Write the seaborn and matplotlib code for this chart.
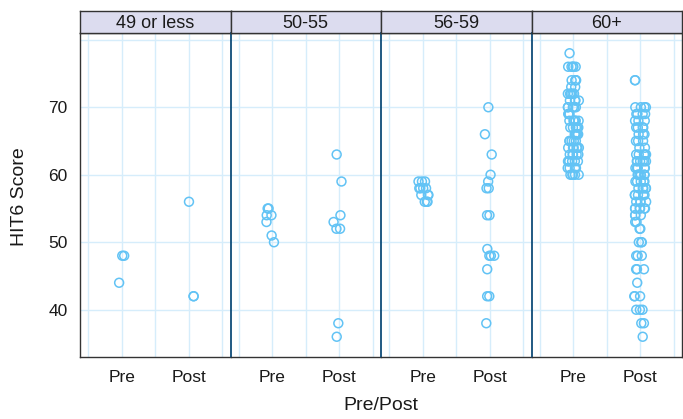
import numpy as np
import pandas as pd
import matplotlib
matplotlib.use("Agg")
import matplotlib.pyplot as plt
import seaborn as sns

# ---- data ----
panels = ["49 or less", "50-55", "56-59", "60+"]
groups = ["Pre", "Post"]

age49_pre = [48, 48, 44]
age49_post = [56, 42, 42]
age50_pre = [55, 55, 54, 54, 53, 51, 50]
age50_post = [63, 59, 54, 53, 52, 52, 38, 36]
age56_pre = [59, 59, 59, 58, 58, 58, 58, 57, 57, 57, 56, 56, 56]
age56_post = [70, 66, 63, 60, 59, 58, 58, 54, 54, 49, 48, 48, 48, 46, 42, 42, 38]
age60_pre = [78,
             76, 76, 76, 76, 76,
             74, 74, 74, 74,
             73, 73,
             72, 72, 72, 72, 72,
             71, 71, 71, 71,
             70, 70, 70, 70, 70,
             69, 69, 69, 69,
             68, 68, 68, 68, 68, 68,
             67, 67, 67, 67, 67,
             66, 66, 66, 66, 66,
             65, 65, 65, 65, 65,
             64, 64, 64, 64, 64, 64,
             63, 63, 63, 63, 63,
             62, 62, 62, 62, 62, 62,
             61, 61, 61, 61,
             60, 60, 60, 60, 60]
age60_post = [74, 74,
              70, 70, 70, 70,
              69, 69, 69, 69,
              68, 68, 68,
              67, 67, 67, 67,
              66, 66, 66,
              65, 65, 65,
              64, 64,
              63, 63, 63, 63, 63,
              62, 62, 62, 62, 62, 62,
              61, 61, 61, 61, 61,
              60, 60, 60, 60, 60, 60,
              59, 59, 59, 59, 59,
              58, 58, 58, 58, 58,
              57, 57, 57, 57, 57,
              56, 56, 56, 56,
              55, 55, 55, 55, 55, 55,
              54, 54, 54,
              53, 53,
              52, 52,
              50, 50, 50,
              48, 48, 48,
              46, 46, 46,
              44,
              42, 42, 42,
              40, 40, 40,
              38, 38,
              36]

series = {
    "49 or less": (age49_pre, age49_post),
    "50-55": (age50_pre, age50_post),
    "56-59": (age56_pre, age56_post),
    "60+": (age60_pre, age60_post),
}
yticks = [40, 50, 60, 70, 80]
ytick_labels = ["40", "50", "60", "70", ""]

rows = []
for p in panels:
    pre, post = series[p]
    for v in pre:
        rows.append((p, "Pre", v))
    for v in post:
        rows.append((p, "Post", v))
df = pd.DataFrame(rows, columns=["age", "prepost", "score"])

# ---- style ----
sns.set_style("white")
plt.rcParams["font.family"] = ["Liberation Sans", "DejaVu Sans"]

pt_color = "#62c3f5"
grid_color = "#d6edfb"
strip_color = "#dcdcef"
frame_color = "#333333"
sep_color = "#0f4c78"
text_color = "#1a1a1a"

fig = plt.figure(figsize=(6.83, 4.19), dpi=100)
W, H = 683, 419
x0, x1 = 80, 682
ybot, ytop = 357, 33
strip_top = 11
pw = (x1 - x0) / 4

np.random.seed(3)
for i, p in enumerate(panels):
    left = x0 + i * pw
    ax = fig.add_axes([left / W, 1 - ybot / H, pw / W, (ybot - ytop) / H])
    sub = df[df["age"] == p]
    sns.stripplot(data=sub, x="prepost", y="score", order=groups, ax=ax,
                  jitter=0.09, size=6.4, color=pt_color, linewidth=1.1,
                  zorder=3)
    for coll in ax.collections:
        coll.set_facecolor("none")
        coll.set_edgecolor(pt_color)
    ax.set_xlim(-0.62, 1.62)
    ax.set_ylim(33, 81)
    for gx in [-0.5, 0, 0.5, 1, 1.5]:
        ax.axvline(gx, color=grid_color, lw=1, zorder=1)
    for gy in yticks:
        ax.axhline(gy, color=grid_color, lw=1, zorder=1)
    ax.set_xlabel("")
    ax.set_ylabel("")
    ax.set_xticks([0, 1])
    ax.set_xticklabels(groups, fontsize=12.5)
    ax.tick_params(axis="x", length=0, pad=9, colors=text_color)
    if i == 0:
        ax.set_yticks(yticks)
        ax.set_yticklabels(ytick_labels, fontsize=12.5)
        ax.tick_params(axis="y", length=6, width=1, direction="out",
                       color=frame_color, pad=3)
        ax.tick_params(axis="y", labelcolor=text_color)
    else:
        ax.set_yticks(yticks)
        ax.set_yticklabels([])
        ax.tick_params(axis="y", length=0)
    for s in ax.spines.values():
        s.set_visible(True)
        s.set_color(frame_color)
        s.set_linewidth(1)
    if i > 0:
        ax.spines["left"].set_color(sep_color)
        ax.spines["left"].set_linewidth(1.3)
    if i < 3:
        ax.spines["right"].set_visible(False)

    sax = fig.add_axes([left / W, 1 - ytop / H, pw / W, (ytop - strip_top) / H])
    sax.set_facecolor(strip_color)
    sax.set_xticks([])
    sax.set_yticks([])
    for s in sax.spines.values():
        s.set_color(frame_color)
        s.set_linewidth(1)
    sax.text(0.5, 0.45, p, ha="center", va="center", fontsize=13,
             color=text_color, transform=sax.transAxes)

fig.text(((x0 + x1) / 2) / W, 1 - 405 / H, "Pre/Post", ha="center",
         va="center", fontsize=14, color=text_color)
fig.text(20 / W, 1 - 197 / H, "HIT6 Score", ha="center", va="center",
         rotation=90, fontsize=14, color=text_color)

fig.savefig("out.png", dpi=100)
